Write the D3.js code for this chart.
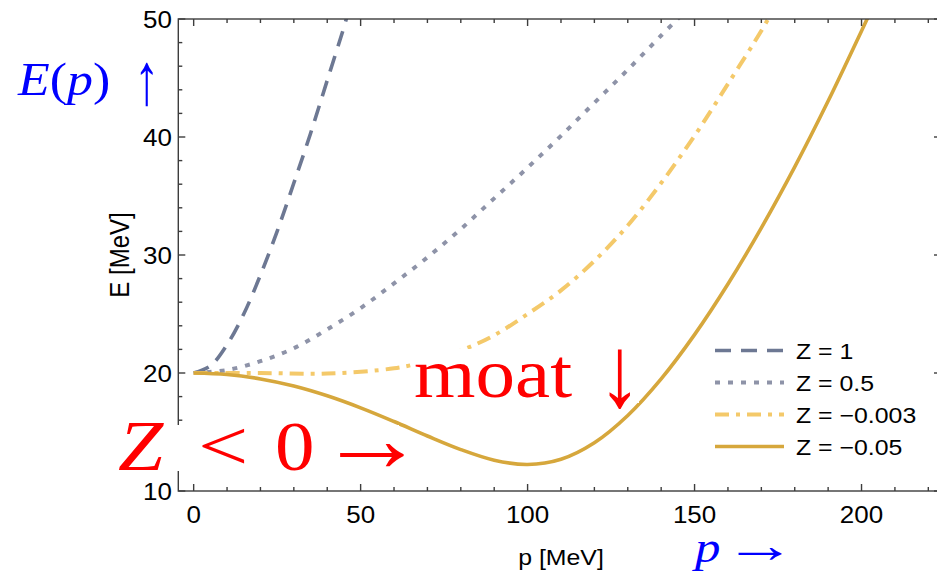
<!DOCTYPE html>
<html>
<head>
<meta charset="utf-8">
<script src="https://cdnjs.cloudflare.com/ajax/libs/d3/7.8.5/d3.min.js"></script>
<style>
	html, body { margin: 0; padding: 0; background: #fff; }
	svg { display: block; }
</style>
</head>
<body>
<svg id="chart" width="937" height="574"></svg>
<script>
var xTicks = [0, 50, 100, 150, 200];
var yTicks = [10, 20, 30, 40, 50];
var seriesNames = ['Z = 1', 'Z = 0.5', 'Z = \u22120.003', 'Z = \u22120.05'];

// E(p), p in MeV
var pZ1 = [0, 5, 10, 15, 20, 25, 30, 35, 40, 45, 46];
var eZ1 = [20, 20.6, 22.4, 25.0, 28.3, 32.0, 36.1, 40.3, 44.8, 49.3, 50.3];

var pZhalf = [0, 10, 20, 30, 40, 50, 60, 70, 80, 90, 100, 110, 120, 130, 140, 146];
var eZhalf = [20, 20.25, 21.0, 22.1, 23.7, 25.5, 27.6, 29.8, 32.2, 34.8, 37.4, 40.1, 42.9, 45.7, 48.6, 50.3];

var pZsmall = [0, 20, 40, 60, 70, 80, 90, 100, 110, 120, 130, 140, 150, 160, 170, 173];
var eZsmall = [20, 20, 19.95, 20.4, 21.0, 21.9, 23.2, 25.0, 27.0, 29.5, 32.5, 36.1, 40.1, 44.5, 49.0, 50.5];

var pZneg = [0, 10, 20, 30, 40, 50, 60, 70, 80, 90, 100, 110, 120, 130, 140, 150, 160, 170, 180, 190, 200, 203];
var eZneg = [20, 19.87, 19.5, 18.9, 18.07, 17.05, 15.89, 14.66, 13.51, 12.61, 12.25, 12.69, 14.09, 16.4, 19.5, 23.25, 27.54, 32.3, 37.47, 43.05, 48.99, 50.8];

var series = [
	{name: seriesNames[0], p: pZ1, e: eZ1},
	{name: seriesNames[1], p: pZhalf, e: eZhalf},
	{name: seriesNames[2], p: pZsmall, e: eZsmall},
	{name: seriesNames[3], p: pZneg, e: eZneg}
];
var styles = [
	{color: '#6d7893', dash: '16,10', width: 3.6},
	{color: '#8e93a8', dash: '5,8', width: 4},
	{color: '#f4c96a', dash: '14,7,4,7', width: 4},
	{color: '#d6a73c', dash: null, width: 3.6}
];

var svg = d3.select('#chart');
var sx = 1.13; // the picture is a bit wider than tall
var sans = '"Liberation Sans", Arial, sans-serif';
var serif = '"Liberation Serif", "Times New Roman", serif';

var x = d3.scaleLinear().domain([-4.6, 223.8]).range([178.3, 941]);
var y = d3.scaleLinear().domain([10, 50]).range([491, 19]);

function drawText(str, px, py, opts) {
	var sc = opts.scale || [1, 1];
	return svg.append('text')
		.attr('transform', 'translate(' + px + ',' + py + ') scale(' + (sx * sc[0]) + ',' + sc[1] + ')' + (opts.rotate ? ' rotate(' + opts.rotate + ')' : ''))
		.attr('text-anchor', opts.anchor || 'start')
		.attr('fill', opts.color || '#000')
		.style('font-family', opts.family || sans)
		.style('font-size', opts.size + 'px')
		.style('font-style', opts.italic ? 'italic' : 'normal')
		.text(str);
}

svg.append('defs').append('clipPath').attr('id', 'plotClip')
	.append('rect')
	.attr('x', x.range()[0]).attr('y', y.range()[1])
	.attr('width', x.range()[1] - x.range()[0])
	.attr('height', y.range()[0] - y.range()[1]);

// curves
var line = d3.line()
	.x(function(d) { return x(d[0]); })
	.y(function(d) { return y(d[1]); })
	.curve(d3.curveCatmullRom.alpha(0.5));

svg.append('g').attr('clip-path', 'url(#plotClip)')
	.selectAll('path')
	.data(series).enter().append('path')
	.attr('d', function(s) { return line(d3.zip(s.p, s.e)); })
	.attr('fill', 'none')
	.attr('stroke', function(s, i) { return styles[i].color; })
	.attr('stroke-width', function(s, i) { return styles[i].width; })
	.attr('stroke-dasharray', function(s, i) { return styles[i].dash; });

// frame with inward ticks
var frame = svg.append('g').attr('stroke', '#3d3d3d').attr('stroke-width', 1.4).attr('fill', 'none');
var x0 = x.range()[0], x1 = x.range()[1], yb = y.range()[0], yt = y.range()[1];
frame.append('rect').attr('x', x0).attr('y', yt).attr('width', x1 - x0).attr('height', yb - yt);

var xMinor = d3.range(0, 221, 10);
var yMinor = d3.range(10, 50.1, 2);
xMinor.forEach(function(v) {
	var len = v % 50 === 0 ? 7 : 4;
	frame.append('line').attr('x1', x(v)).attr('x2', x(v)).attr('y1', yb).attr('y2', yb - len);
	frame.append('line').attr('x1', x(v)).attr('x2', x(v)).attr('y1', yt).attr('y2', yt + len);
});
yMinor.forEach(function(v) {
	var len = v % 10 === 0 ? 7 : 4;
	frame.append('line').attr('x1', x0).attr('x2', x0 + len).attr('y1', y(v)).attr('y2', y(v));
	frame.append('line').attr('x1', x1).attr('x2', x1 - len).attr('y1', y(v)).attr('y2', y(v));
});

// tick labels
xTicks.forEach(function(v) {
	drawText(String(v), x(v), 523, {size: 23, anchor: 'middle'});
});
yTicks.forEach(function(v) {
	drawText(String(v), 172, y(v) + 8.5, {size: 23, anchor: 'end'});
});

drawText('p [MeV]', 561, 565, {size: 22, anchor: 'middle'});
drawText('E [MeV]', 129, 255, {size: 24, anchor: 'middle', rotate: -90});

// legend
var legend = svg.append('g');
series.forEach(function(s, i) {
	var ly = 350.5 + i * 32;
	legend.append('line')
		.attr('x1', 715).attr('x2', 784).attr('y1', ly).attr('y2', ly)
		.attr('stroke', styles[i].color)
		.attr('stroke-width', styles[i].width)
		.attr('stroke-dasharray', styles[i].dash);
	drawText(s.name, 796, ly + 8, {size: 22});
});

// white boxes behind the hand-made notes
svg.append('rect').attr('x', 112).attr('y', 425).attr('width', 287).attr('height', 46).attr('fill', '#fff');
svg.append('rect').attr('x', 413).attr('y', 349).attr('width', 226).attr('height', 54).attr('fill', '#fff');

// notes in red and blue
var red = '#ff0000', blue = '#0000ff';
drawText('Z', 118, 470, {size: 72, family: serif, italic: true, color: red});
drawText('<', 198, 470, {size: 72, family: serif, color: red, scale: [1.1, 1]});
drawText('0', 275, 470, {size: 70, family: serif, color: red});
drawText('\u2192', 318, 471, {size: 95, family: serif, color: red});

drawText('moat', 414, 397, {size: 70, family: serif, color: red});
drawText('\u2193', 598, 406, {size: 70, family: serif, color: red, scale: [1.1, 1.44]});

var ep = drawText('', 18, 95, {size: 46, family: serif, color: blue});
ep.append('tspan').style('font-style', 'italic').text('E');
ep.append('tspan').text('(');
ep.append('tspan').style('font-style', 'italic').text('p');
ep.append('tspan').text(')');
drawText('\u2191', 134, 104, {size: 45, family: serif, color: blue, scale: [1, 1.63]});

drawText('p', 695, 562, {size: 45, family: serif, italic: true, color: blue});
drawText('\u2192', 724, 562, {size: 46, family: serif, color: blue, scale: [1.4, 1.1]});
</script>
</body>
</html>
